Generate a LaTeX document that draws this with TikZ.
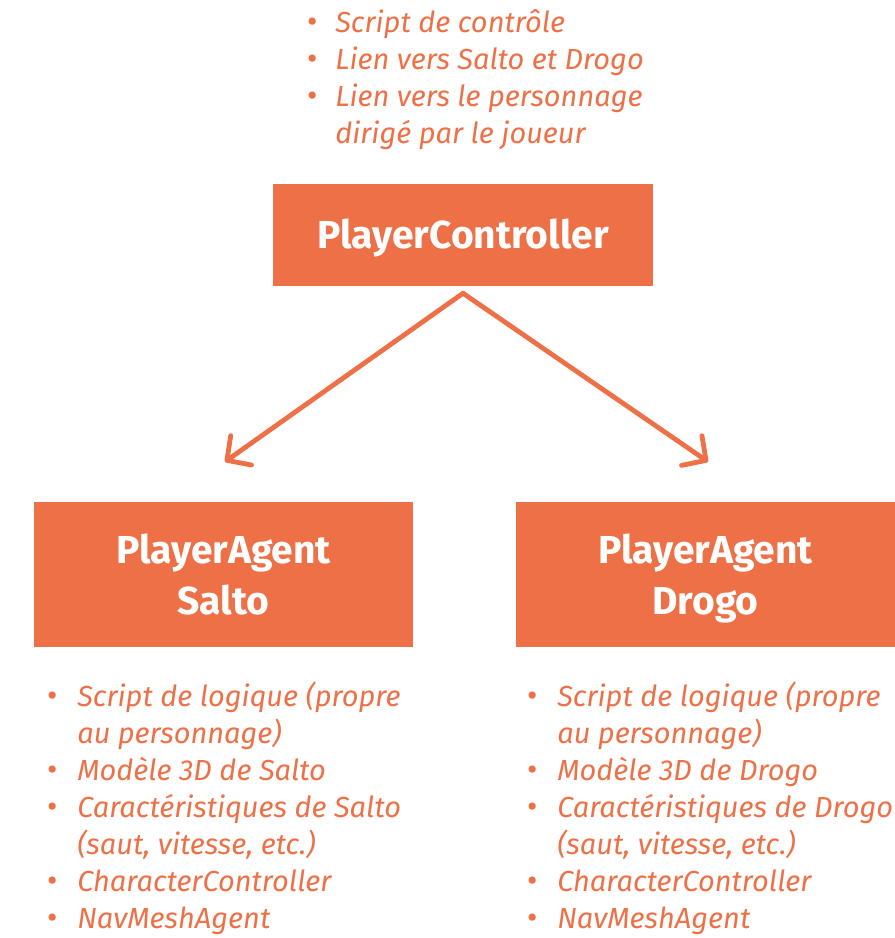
\documentclass[tikz,border=0pt]{standalone}
\usepackage{fontspec}
\setmainfont{Fira Sans}
\usetikzlibrary{arrows.meta,calc}
\definecolor{orng}{HTML}{EE7046}
\newcommand{\blA}{\makebox[34.5pt]{\upshape\scalebox{1.1}{•}}}
\newcommand{\blB}{\makebox[37.5pt]{\upshape\scalebox{1.1}{•}}}
\begin{document}
\begin{tikzpicture}[x=0.75pt,y=-0.75pt,
  box/.style={fill=orng,text=white,inner sep=0pt,align=center,text depth=0pt,
    font=\bfseries\fontsize{29.25}{38.25}\selectfont},
  lst/.style={text=orng,inner sep=0pt,anchor=base west,
    font=\itshape\fontsize{21.75}{27.75}\selectfont},
  conn/.style={draw=orng,line width=3.6pt,line cap=round,
    -{Straight Barb[length=13pt,width=27pt,line width=3.6pt,round]}}]
\useasboundingbox (0,0) rectangle (895,938);
\node[box,minimum width=285pt,minimum height=76.5pt] (pc) at (463,235) {\raisebox{1.5pt}{PlayerController}};
\node[box,minimum width=284.25pt,minimum height=108.75pt] (salto) at (223.5,574.5) {PlayerAgent\\Salto};
\node[box,minimum width=284.25pt,minimum height=108.75pt] (drogo) at (705.5,574.5) {PlayerAgent\\Drogo};
\node[lst] (ltop) at (289,33) {\begin{tabular}[t]{@{}l@{}l@{}}
\blA & Script de contrôle\\
\blA & Lien vers Salto et Drogo\\
\blA & Lien vers le personnage\\
 & dirigé par le joueur
\end{tabular}};
\node[lst] (lsalto) at (27,706) {\begin{tabular}[t]{@{}l@{}l@{}}
\blB & Script de logique (propre\\
 & au personnage)\\
\blB & Modèle 3D de Salto\\
\blB & Caractéristiques de Salto\\
 & (saut, vitesse, etc.)\\
\blB & CharacterController\\
\blB & NavMeshAgent
\end{tabular}};
\node[lst] (ldrogo) at (507,706) {\begin{tabular}[t]{@{}l@{}l@{}}
\blB & Script de logique (propre\\
 & au personnage)\\
\blB & Modèle 3D de Drogo\\
\blB & Caractéristiques de Drogo\\
 & (saut, vitesse, etc.)\\
\blB & CharacterController\\
\blB & NavMeshAgent
\end{tabular}};
\draw[conn] ($(pc.south)+(0,7)$) -- ($(salto.north)+(1.5,-40)$);
\draw[conn] ($(pc.south)+(0,7)$) -- ($(drogo.north)+(2.5,-40)$);
\end{tikzpicture}
\end{document}
